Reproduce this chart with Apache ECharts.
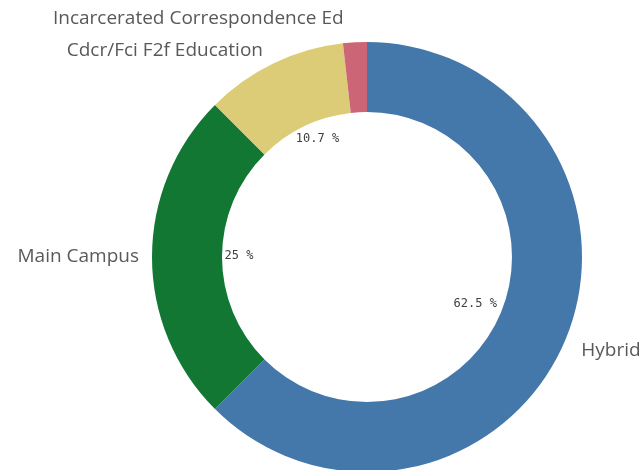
<!DOCTYPE html>
<html>
<head>
<meta charset="utf-8">
<script src="https://cdn.jsdelivr.net/npm/echarts@6/dist/echarts.min.js"></script>
<style>
  html, body { margin: 0; padding: 0; background: #fff; }
  #chart { width: 644px; height: 470px; }
</style>
</head>
<body>
<div id="chart"></div>
<script>
// data (counts that give 62.5 / 25 / 10.7 / 1.8 %)
const categories = ['Hybrid', 'Main Campus', 'Cdcr/Fci F2f Education', 'Incarcerated Correspondence Ed'];
const counts = [35, 14, 6, 1];

const palette = ['#4477aa', '#117733', '#ddcc77', '#cc6677'];
const total = counts.reduce((a, b) => a + b, 0);

const chart = echarts.init(document.getElementById('chart'));

const nameData = categories.map((name, i) => {
  const item = { name: name, value: counts[i], itemStyle: { color: palette[i] } };
  // the tiny slice's label sits further out, above the other one
  if (i === 3) item.labelLine = { length: 24, length2: 5 };
  return item;
});

const pctData = categories.map((name, i) => {
  const item = { name: name, value: counts[i] };
  if (counts[i] / total < 0.05) item.label = { show: false };
  return item;
});

// small nudges so the labels sit like the original
const nameNudge = [[3, 10], [0, 0], [0, -9], [0, 0]];
const pctNudge = [[-10, -2], [0, -1], [6, -3], [0, 0]];

const options = {
  animation: false,
  series: [
    {
      type: 'pie',
      center: [367, 257],
      radius: [145, 215],
      startAngle: 90,
      clockwise: true,
      avoidLabelOverlap: false,
      label: {
        show: true,
        position: 'outside',
        formatter: '{b}',
        fontFamily: 'Open Sans',
        fontSize: 19,
        color: '#595959'
      },
      labelLine: { show: false, length: 4, length2: 4 },
      labelLayout: p => ({ dx: nameNudge[p.dataIndex][0], dy: nameNudge[p.dataIndex][1] }),
      emphasis: { disabled: true },
      data: nameData
    },
    {
      type: 'pie',
      center: [367, 257],
      radius: [100, 150],
      startAngle: 90,
      clockwise: true,
      silent: true,
      percentPrecision: 1,
      itemStyle: { color: 'rgba(0,0,0,0)' },
      label: {
        show: true,
        position: 'inside',
        formatter: '{d} %',
        fontFamily: 'DejaVu Sans Mono',
        fontSize: 12,
        color: '#404040'
      },
      labelLine: { show: false },
      labelLayout: p => ({ dx: pctNudge[p.dataIndex][0], dy: pctNudge[p.dataIndex][1] }),
      data: pctData
    }
  ]
};

chart.setOption(options);
</script>
</body>
</html>
